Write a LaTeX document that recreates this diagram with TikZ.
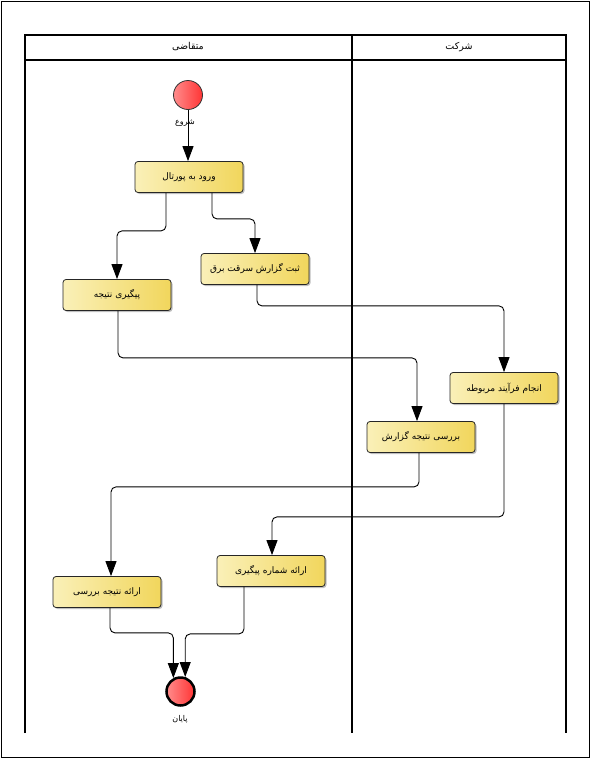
\documentclass[tikz,border=0pt]{standalone}
\usepackage{fontspec}
\usetikzlibrary{arrows.meta,shadows}
\TeXXeTstate=1
\newfontfamily\farsi[Script=Arabic]{DejaVu Sans}
\newcommand{\fatext}[1]{{\farsi\beginR #1\endR}}
\definecolor{boxL}{HTML}{FAF0B8}
\definecolor{boxR}{HTML}{F1D65C}
\definecolor{dotL}{HTML}{FF8C8C}
\definecolor{dotR}{HTML}{FF3434}
\tikzset{
    act/.style={draw=black!85, line width=0.8pt, rounded corners=3pt,
        left color=boxL, right color=boxR, minimum width=108pt, minimum height=31pt,
        font=\fontsize{9}{11}\selectfont,
        drop shadow={shadow xshift=1.5pt, shadow yshift=-1.5pt, opacity=0.25, fill=black}},
    startdot/.style={circle, draw=black!80, line width=0.8pt, left color=dotL,
        right color=dotR, minimum size=29pt, inner sep=0pt},
    enddot/.style={startdot, draw=black, line width=2.5pt, minimum size=28pt},
    flow/.style={-{Triangle[length=15pt,width=11pt]}, line width=0.9pt, rounded corners=5pt},
    lane/.style={line width=1.2pt},
    caption/.style={font=\fontsize{8}{10}\selectfont, inner sep=1pt},
    header/.style={font=\fontsize{9.5}{11}\selectfont}
}
\begin{document}
\begin{tikzpicture}[x=1pt,y=-1pt]
    \useasboundingbox (0,0) rectangle (591,758);
    \draw[line width=0.9pt] (1.5,1.5) rectangle (589.5,757);
    
    % lanes
    \draw[lane] (25,733) -- (25,35) -- (566,35) -- (566,733);
    \draw[lane] (352,35) -- (352,733);
    \draw[lane] (25,60) -- (566,60);
    \node[header] (laneA) at (188,47) {\fatext{متقاضی}};
    \node[header] (laneB) at (459,47) {\fatext{شرکت}};
    
    % nodes
    \node[startdot] (start) at (188,95) {};
    \node[act] (login) at (189,177) {\fatext{ورود به پورتال}};
    \node[act] (report) at (255,269) {\fatext{ثبت گزارش سرقت برق}};
    \node[act] (follow) at (117,295) {\fatext{پیگیری نتیجه}};
    \node[act] (process) at (504,388) {\fatext{انجام فرآیند مربوطه}};
    \node[act] (check) at (421,437) {\fatext{بررسی نتیجه گزارش}};
    \node[act] (track) at (271,571) {\fatext{ارائه شماره پیگیری}};
    \node[act] (result) at (107,592) {\fatext{ارائه نتیجه بررسی}};
    \node[enddot] (stop) at (180.5,691.5) {};
    
    % connectors
    \draw[flow] (start) -- (start |- login.north);
    \draw[flow] ([xshift=-23pt]login.south) -- ++(0,38) -| (follow.north);
    \draw[flow] ([xshift=23pt]login.south) -- ++(0,26) -| (report.north);
    \draw[flow] ([xshift=2pt]report.south) -- ++(0,21) -| (process.north);
    \draw[flow] ([xshift=1pt]follow.south) -- ++(0,47) -| ([xshift=-4pt]check.north);
    \draw[flow] ([xshift=-2pt]check.south) -- ++(0,34) -| ([xshift=4pt]result.north);
    \draw[flow] (process.south) -- ++(0,113) -| ([xshift=1pt]track.north);
    \draw[flow] ([xshift=3pt]result.south) -- ++(0,25) -| (stop.118);
    \draw[flow] ([xshift=-27pt]track.south) -- ++(0,47) -| (stop.72);
    
    \node[caption] (startlbl) at (185,123) {\fatext{شروع}};
    \node[caption] (stoplbl) at (180,719) {\fatext{پایان}};
    
\end{tikzpicture}
\end{document}
